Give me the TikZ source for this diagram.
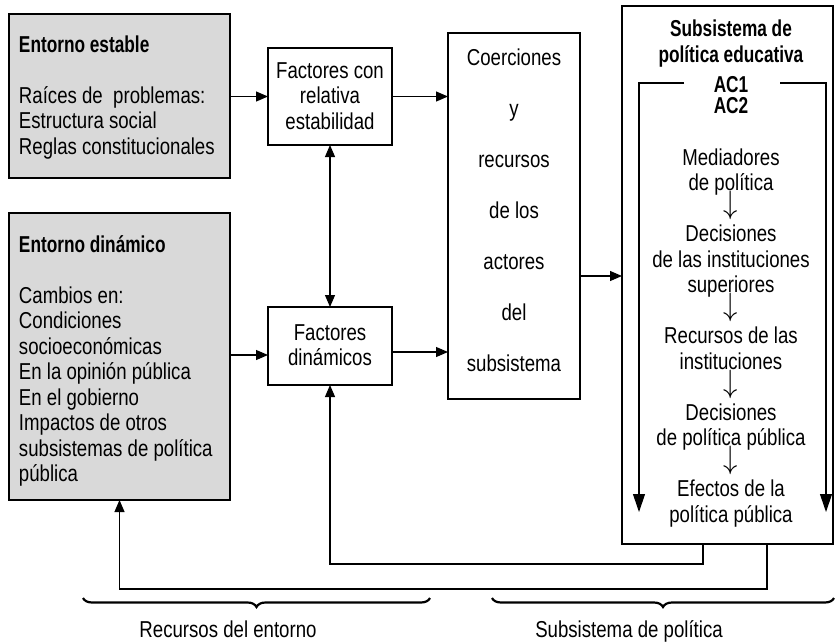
\documentclass[tikz,border=0pt]{standalone}
\usepackage{fontspec}
\setmainfont{Liberation Sans}[UprightFeatures={FakeStretch=0.81},BoldFeatures={FakeStretch=0.75}]
\usetikzlibrary{arrows.meta,decorations.pathreplacing}
\definecolor{boxgray}{HTML}{D9D9D9}
\newcommand{\dnarrow}{\smash{\raisebox{2.5pt}{\scalebox{1.15}[1.3]{$\downarrow$}}}}
\begin{document}
\begin{tikzpicture}[x=1pt,y=-1pt,
  every node/.style={inner sep=0pt,outer sep=0pt},
  txt/.style={font=\fontsize{23}{25.5}\selectfont},
  bigbox/.style={draw,line width=1.2pt,anchor=north west},
  graybox/.style={bigbox,fill=boxgray},
  arr/.style={line width=1.1pt,-{Triangle[length=12pt,width=10pt]}},
  dblarr/.style={line width=1.1pt,{Triangle[length=12pt,width=10pt]}-{Triangle[length=12pt,width=10pt]}},
  inarr/.style={line width=1.1pt,-{Triangle[length=18pt,width=12pt]}},
  bracedown/.style={line width=2.2pt,decorate,decoration={brace,mirror,amplitude=9pt}}]
\useasboundingbox (0,0) rectangle (835,643);

% boxes
\node[graybox,minimum width=221,minimum height=164] (estable) at (9,14) {};
\node[graybox,minimum width=221,minimum height=287] (dinamico) at (9,213) {};
\node[bigbox,minimum width=124,minimum height=97] (factR) at (268,48) {};
\node[bigbox,minimum width=124,minimum height=78] (factD) at (268,307) {};
\node[bigbox,minimum width=132,minimum height=366] (coer) at (448,33) {};
\node[bigbox,minimum width=211,minimum height=538] (subs) at (622,6) {};

% texts (anchor base = baseline of the last line)
\node[txt,anchor=base west,align=left] (estableT) at (19,154)
  {\textbf{Entorno estable}\\[25.5pt]Raíces de\ \ problemas:\\Estructura social\\Reglas constitucionales};
\node[txt,anchor=base west,align=left] (dinamicoT) at (19,481.5)
  {\textbf{Entorno dinámico}\\[25.5pt]Cambios en:\\Condiciones\\socioeconómicas\\En la opinión pública\\En el gobierno\\Impactos de otros\\subsistemas de política\\pública};
\node[txt,anchor=base,align=center] (factRT) at (330,129) {Factores con\\relativa\\estabilidad};
\node[txt,anchor=base,align=center] (factDT) at (330,365.5) {Factores\\dinámicos};
\node[font=\fontsize{23}{51.1}\selectfont,anchor=base,align=center] (coerT) at (514,371.6)
  {Coerciones\\y\\recursos\\de los\\actores\\del\\subsistema};
\node[txt,anchor=base,align=center] (subsT) at (731,62) {\textbf{Subsistema de}\\\textbf{política educativa}};
\node[txt,anchor=base] (ac1) at (731,92) {\textbf{AC1}};
\node[txt,anchor=base] (ac2) at (731,113) {\textbf{AC2}};
\node[txt,anchor=base,align=center] (chain) at (731,522)
  {Mediadores\\de política\\\dnarrow\\Decisiones\\de las instituciones\\superiores\\\dnarrow\\Recursos de las\\instituciones\\\dnarrow\\Decisiones\\de política pública\\\dnarrow\\Efectos de la\\política pública};
\node[txt,anchor=base] (labEnt) at (228,637) {Recursos del entorno};
\node[txt,anchor=base] (labSub) at (629,637) {Subsistema de política};

% inner bracket
\coordinate (acL) at (684,83);
\coordinate (acR) at (780,83);
\coordinate (inL) at (639,512);
\coordinate (inR) at (826,512);
\draw[inarr] (acL) -| (inL);
\draw[inarr] (acR) -| (inR);

% connectors
\draw[arr] (estable.east |- factR.west) -- (factR.west);
\draw[arr] (factR.east) -- (coer.west |- factR.east);
\draw[arr] (dinamico.east |- 0,355) -- (factD.west |- 0,355);
\draw[arr] (factD.east |- 0,352) -- (coer.west |- 0,352);
\draw[arr] (coer.east |- 0,276) -- (subs.west |- 0,276);
\draw[dblarr] (factR.south) -- (factD.north);
\draw[arr] (703,0 |- subs.south) -- ++(0,20) -| (factD.south);
\draw[arr] (767,0 |- subs.south) -- ++(0,45) -| (dinamico.south);

% braces
\draw[bracedown] (83,598) -- (430,598);
\draw[bracedown] (492,598) -- (834,598);
\end{tikzpicture}
\end{document}
